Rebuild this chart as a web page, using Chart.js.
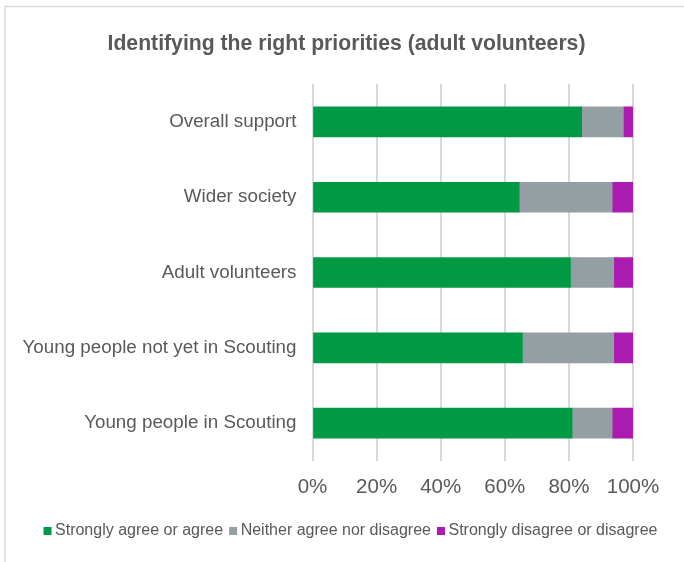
<!DOCTYPE html>
<html>
<head>
<meta charset="utf-8">
<script src="https://cdn.jsdelivr.net/npm/chart.js@4"></script>
<style>
  html, body { margin: 0; padding: 0; background: #fff; }
  #wrap { position: relative; width: 684px; height: 562px; }
</style>
</head>
<body>
<div id="wrap"><canvas id="c" width="684" height="562"></canvas></div>
<script>
// Survey groups (top to bottom) and share of responses per group, in percent
const categories = [
  'Overall support',
  'Wider society',
  'Adult volunteers',
  'Young people not yet in Scouting',
  'Young people in Scouting'
];
const agree    = [84, 64.5, 80.5, 65.5, 81];
const neutral  = [13, 29, 13.5, 28.5, 12.5];
const disagree = [3, 6.5, 6, 6, 6.5];
const seriesNames = [
  'Strongly agree or agree',
  'Neither agree nor disagree',
  'Strongly disagree or disagree'
];
const seriesColors = ['#009a44', '#949fa3', '#aa1bb0'];
const tickValues = [0, 20, 40, 60, 80, 100];

const FONT = "'Liberation Sans', Arial, sans-serif";
const TEXT = '#595959';

// light frame around the whole chart
const framePlugin = {
  id: 'frame',
  beforeDraw(chart) {
    const ctx = chart.ctx;
    ctx.save();
    ctx.strokeStyle = '#d9d9d9';
    ctx.lineWidth = 1.5;
    ctx.strokeRect(5, 6.5, 700, 600);
    ctx.restore();
  }
};

// compact one-row legend: small square, tight gap, then the series name
const compactLegend = {
  id: 'compactLegend',
  afterDraw(chart) {
    const ctx = chart.ctx;
    const box = 8, gap = 3.5, itemGap = 6, y = 531, centerX = 350.5;
    ctx.save();
    ctx.font = '16px ' + FONT;
    ctx.textBaseline = 'middle';
    const items = chart.data.datasets.map(ds => ({
      text: ds.label,
      color: ds.backgroundColor,
      w: box + gap + ctx.measureText(ds.label).width
    }));
    const total = items.reduce((s, it) => s + it.w, 0) + itemGap * (items.length - 1);
    let x = centerX - total / 2;
    items.forEach(it => {
      ctx.fillStyle = it.color;
      ctx.fillRect(x, y - box / 2, box, box);
      ctx.fillStyle = TEXT;
      ctx.fillText(it.text, x + box + gap, y);
      x += it.w + itemGap;
    });
    ctx.restore();
  }
};

new Chart(document.getElementById('c'), {
  type: 'bar',
  data: {
    labels: categories,
    datasets: [
      { label: seriesNames[0], data: agree,    backgroundColor: seriesColors[0] },
      { label: seriesNames[1], data: neutral,  backgroundColor: seriesColors[1] },
      { label: seriesNames[2], data: disagree, backgroundColor: seriesColors[2] }
    ]
  },
  options: {
    indexAxis: 'y',
    responsive: false,
    animation: false,
    layout: { padding: { left: 9, right: 0, top: 31, bottom: 48.6 } },
    datasets: { bar: { barThickness: 30, borderWidth: 0 } },
    scales: {
      x: {
        stacked: true,
        min: 0,
        max: 100,
        afterBuildTicks(scale) {
          scale.ticks = tickValues.map(v => ({ value: v }));
        },
        afterFit(scale) { scale.paddingRight = 51; },
        grid: { color: '#d9d9d9', lineWidth: 2, drawTicks: false },
        border: { display: false },
        ticks: {
          padding: 14,
          color: TEXT,
          font: { family: FONT, size: 20.5 },
          callback: v => v + '%'
        }
      },
      y: {
        stacked: true,
        afterFit(scale) { scale.width = 303.5; },
        grid: { display: false, drawTicks: false },
        border: { display: false },
        ticks: {
          padding: 16,
          color: TEXT,
          font: { family: FONT, size: 18.8 }
        }
      }
    },
    plugins: {
      title: {
        display: true,
        text: 'Identifying the right priorities (adult volunteers)',
        color: TEXT,
        font: { family: FONT, size: 21.2, weight: 'bold' },
        padding: { top: 0, bottom: 27.8 }
      },
      legend: { display: false },
      tooltip: { enabled: false }
    }
  },
  plugins: [framePlugin, compactLegend]
});
</script>
</body>
</html>
